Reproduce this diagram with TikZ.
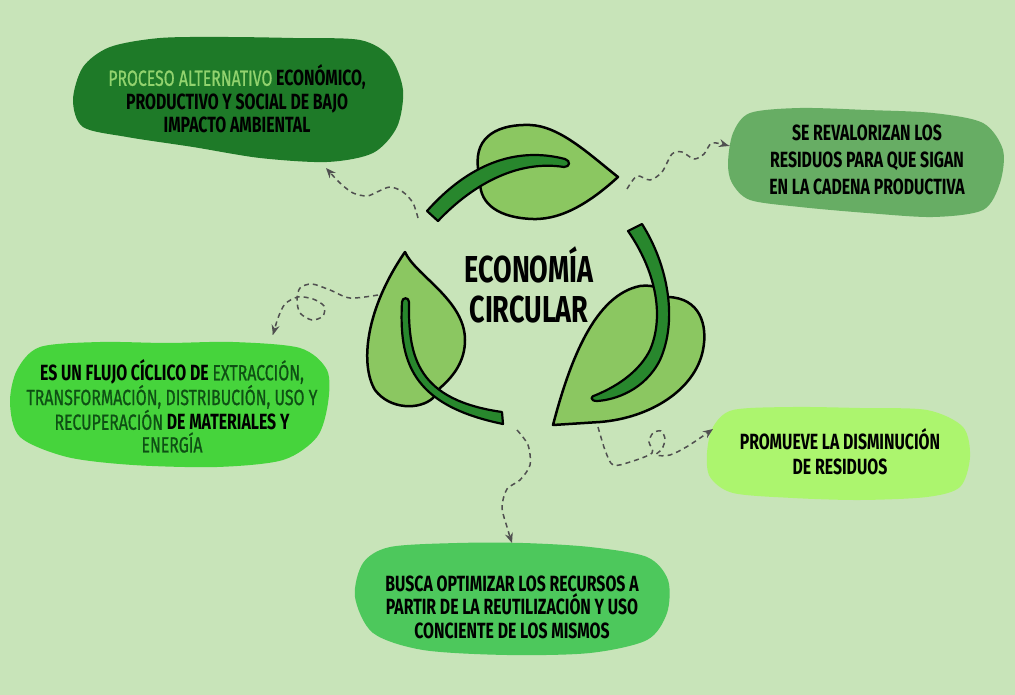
\documentclass[tikz,border=0pt]{standalone}
\usepackage{fontspec}
\setmainfont[FakeStretch=0.72]{Fira Sans}
\newfontfamily\midfont[FakeStretch=0.72,FakeBold=0.8]{Fira Sans}
\newcommand{\softword}{\midfont\mdseries}
\usepackage{xcolor}
\usetikzlibrary{arrows.meta}
\definecolor{bgc}{RGB}{200,228,185}
\definecolor{leafc}{RGB}{139,199,97}
\definecolor{stemc}{RGB}{40,135,45}
\definecolor{blobA}{RGB}{30,122,40}
\definecolor{blobB}{RGB}{103,173,100}
\definecolor{blobC}{RGB}{70,212,60}
\definecolor{blobD}{RGB}{172,245,110}
\definecolor{blobE}{RGB}{77,200,92}
\definecolor{lightword}{RGB}{146,211,110}
\definecolor{deepword}{RGB}{14,80,20}
\definecolor{dashc}{RGB}{80,80,80}

\begin{document}
\begin{tikzpicture}[x=1pt,y=-1pt,
    txt/.style={align=center,inner sep=0pt,font=\bfseries\fontsize{22}{23.5}\selectfont},
    leaf/.style={fill=leafc,draw=black,line width=2.5pt,line join=round},
    stem/.style={fill=stemc,draw=black,line width=2.2pt,line join=round},
    flow/.style={draw=dashc,line width=1.5pt,dash pattern=on 5pt off 4pt,-{Stealth[length=10pt,width=8pt]}}]
    \fill[bgc] (0,0) rectangle (1015,695);
    \useasboundingbox (0,0) rectangle (1015,695);

    % bubbles
    \fill[blobA] plot[smooth cycle] coordinates {(73,100) (83,67) (110,47) (160,38) (227,37) (293,38) (360,40) (390,57) (403,90) (397,127) (373,153) (327,162) (260,158) (193,147) (127,137) (83,127)};
    \fill[blobB] plot[smooth cycle] coordinates {(728,163) (733,133) (750,113) (800,108) (867,110) (933,113) (983,123) (1003,150) (1000,183) (983,210) (933,217) (867,213) (800,207) (750,200) (732,183)};
    \fill[blobC] plot[smooth cycle] coordinates {(10,403) (17,370) (40,347) (100,342) (167,343) (233,342) (300,348) (327,370) (328,403) (317,437) (283,460) (217,467) (133,465) (67,457) (20,437)};
    \fill[blobD] plot[smooth cycle] coordinates {(707,453) (713,427) (733,410) (793,407) (860,408) (927,410) (963,427) (970,457) (960,487) (927,497) (860,500) (793,498) (733,493) (710,477)};
    \fill[blobE] plot[smooth cycle] coordinates {(355,597) (363,563) (390,547) (457,543) (523,543) (590,547) (647,557) (668,580) (667,613) (647,640) (590,653) (507,655) (423,650) (373,633)};

    \node[txt] (proceso) at (237,99) {\textcolor{lightword}{\softword PROCESO ALTERNATIVO} ECONÓMICO,\\ PRODUCTIVO Y SOCIAL DE BAJO\\ IMPACTO AMBIENTAL};
    \node[txt,font=\bfseries\fontsize{22}{27}\selectfont] (revalor) at (867,160) {SE REVALORIZAN LOS\\ RESIDUOS PARA QUE SIGAN\\ EN LA CADENA PRODUCTIVA};
    \node[txt,font=\bfseries\fontsize{22}{22.7}\selectfont] (flujo) at (172,406) {ES UN FLUJO CÍCLICO DE \textcolor{deepword}{\softword EXTRACCIÓN,}\\ \textcolor{deepword}{\softword TRANSFORMACIÓN, DISTRIBUCIÓN, USO Y}\\ \textcolor{deepword}{\softword RECUPERACIÓN} DE MATERIALES Y\\ \textcolor{deepword}{\softword ENERGÍA}};
    \node[txt,font=\bfseries\fontsize{22}{25}\selectfont] (promueve) at (840,452) {PROMUEVE LA DISMINUCIÓN\\ DE RESIDUOS};
    \node[txt] (busca) at (512,607) {BUSCA OPTIMIZAR LOS RECURSOS A\\ PARTIR DE LA REUTILIZACIÓN Y USO\\ CONCIENTE DE LOS MISMOS};

    % leaves
    \draw[leaf] (478,168) .. controls (474,135) and (500,124) .. (530,125) .. controls (560,126) and (590,155) .. (618,177) .. controls (595,198) and (565,220) .. (533,219) .. controls (500,218) and (480,205) .. (480,182) -- cycle;
    \draw[stem] (427,211) .. controls (468,165) and (515,146) .. (565,159) .. controls (571,161) and (570,167) .. (564,167) .. controls (520,160) and (475,182) .. (438,221) -- cycle;

    \draw[leaf] (553,425) .. controls (570,360) and (595,295) .. (640,286) .. controls (655,284) and (665,290) .. (668,297) .. controls (700,298) and (708,325) .. (703,350) .. controls (695,390) and (650,418) .. (600,422) -- cycle;
    \draw[stem] (642,224) .. controls (668,265) and (678,320) .. (660,360) .. controls (645,390) and (615,400) .. (597,401) .. controls (590,401) and (590,396) .. (596,395) .. controls (620,385) and (640,370) .. (650,350) .. controls (665,315) and (655,270) .. (628,231) -- cycle;

    \draw[leaf] (405,252) .. controls (415,275) and (465,300) .. (465,340) .. controls (465,360) and (455,375) .. (440,388) -- (433,398) .. controls (420,410) and (390,410) .. (375,390) .. controls (360,365) and (365,310) .. (405,252) -- cycle;
    \draw[stem] (402,302) .. controls (399,360) and (410,405) .. (503,424) -- (502,412) .. controls (418,400) and (408,358) .. (409,302) .. controls (409,297) and (402,297) .. (402,302) -- cycle;

    \node[font=\bfseries\fontsize{37.5}{40}\selectfont,align=center,inner sep=0pt] (titulo) at (529,285) {ECONOMÍA\\CIRCULAR};

    % dashed links
    \coordinate (a1) at (418,218);
    \coordinate (a2) at (326,168);
    \coordinate (b1) at (627,189);
    \coordinate (b2) at (729,146);
    \coordinate (c1) at (378,295);
    \coordinate (c2) at (273,335);
    \coordinate (d1) at (517,430);
    \coordinate (d2) at (512,543);
    \coordinate (e1) at (598,427);
    \coordinate (e2) at (713,429);
    \draw[flow] plot[smooth] coordinates {(a1) (413,203) (403,192) (390,187) (377,192) (367,196) (353,193) (340,183) (a2)};
    \draw[flow] plot[smooth] coordinates {(b1) (637,176) (650,180) (662,172) (672,154) (682,152) (694,159) (704,154) (712,143) (b2)};
    \draw[flow] plot[smooth] coordinates {(c1) (350,298) (330,290) (312,284) (300,288) (297,300) (300,313) (312,320) (323,316) (324,306) (313,299) (298,297) (285,304) (278,318) (c2)};
    \draw[flow] plot[smooth] coordinates {(d1) (528,445) (530,465) (520,480) (507,489) (502,507) (507,527) (d2)};
    \draw[flow] plot[smooth] coordinates {(e1) (605,450) (613,465) (630,462) (652,453) (649,442) (653,433) (661,431) (665,439) (662,449) (656,455) (670,455) (688,446) (e2)};
\end{tikzpicture}
\end{document}
